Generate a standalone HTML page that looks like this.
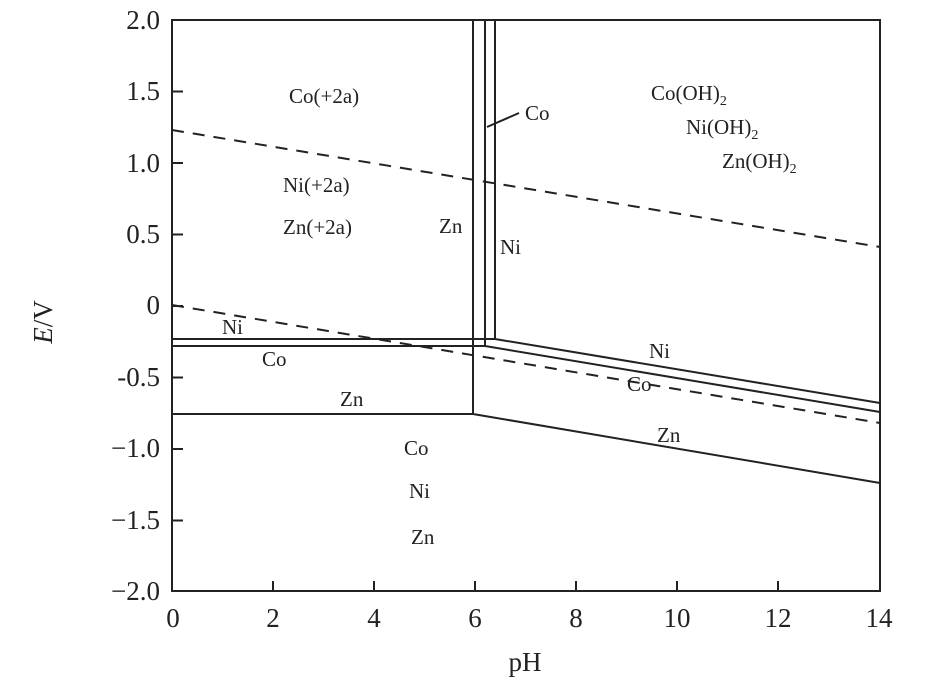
<!DOCTYPE html>
<html><head><style>body{margin:0;background:#fff}svg{display:block}</style></head><body>
<svg width="945" height="685" xmlns="http://www.w3.org/2000/svg" font-family="Liberation Serif, serif" fill="#222">
<g stroke="#222" stroke-width="2" fill="none">
<rect x="172" y="20" width="708" height="571"/>
<path d="M172 91.5h11M172 163h11M172 234.5h11M172 306h11M172 377.5h11M172 449h11M172 520.5h11"/>
<path d="M273 591v-10M374 591v-10M475 591v-10M576 591v-10M677 591v-10M778 591v-10"/>
<path d="M473 20V414L880 483M172 414H473"/>
<path d="M485 20V346L880 412M172 346H485"/>
<path d="M495 20V339L880 403M172 339H495"/>
<path d="M519 113L487 127"/>
</g>
<g stroke="#222" stroke-width="2" fill="none" stroke-dasharray="12,9">
<path d="M172 130L880 247"/>
<path d="M172 305L880 423"/>
</g>
<g font-size="27" text-anchor="end">
<text x="160" y="29">2.0</text><text x="160" y="100">1.5</text><text x="160" y="172">1.0</text>
<text x="160" y="243">0.5</text><text x="160" y="314">0</text><text x="160" y="386">-0.5</text>
<text x="160" y="457">−1.0</text><text x="160" y="529">−1.5</text><text x="160" y="600">−2.0</text>
</g>
<g font-size="27" text-anchor="middle">
<text x="173" y="627">0</text><text x="273" y="627">2</text><text x="374" y="627">4</text><text x="475" y="627">6</text>
<text x="576" y="627">8</text><text x="677" y="627">10</text><text x="778" y="627">12</text><text x="879" y="627">14</text>
<text x="525" y="671">pH</text>
</g>
<text x="52" y="322" font-size="27" text-anchor="middle" transform="rotate(-90 52 322)"><tspan font-style="italic">E</tspan>/V</text>
<g font-size="21">
<text x="289" y="103">Co(+2a)</text>
<text x="283" y="192">Ni(+2a)</text>
<text x="283" y="234">Zn(+2a)</text>
<text x="439" y="233">Zn</text>
<text x="500" y="254">Ni</text>
<text x="525" y="120">Co</text>
<text x="651" y="100">Co(OH)<tspan font-size="14" dy="5">2</tspan></text>
<text x="686" y="134">Ni(OH)<tspan font-size="14" dy="5">2</tspan></text>
<text x="722" y="168">Zn(OH)<tspan font-size="14" dy="5">2</tspan></text>
<text x="222" y="334">Ni</text>
<text x="262" y="366">Co</text>
<text x="340" y="406">Zn</text>
<text x="649" y="358">Ni</text>
<text x="627" y="391">Co</text>
<text x="657" y="442">Zn</text>
<text x="404" y="455">Co</text>
<text x="409" y="498">Ni</text>
<text x="411" y="544">Zn</text>
</g>
</svg>
</body></html>
